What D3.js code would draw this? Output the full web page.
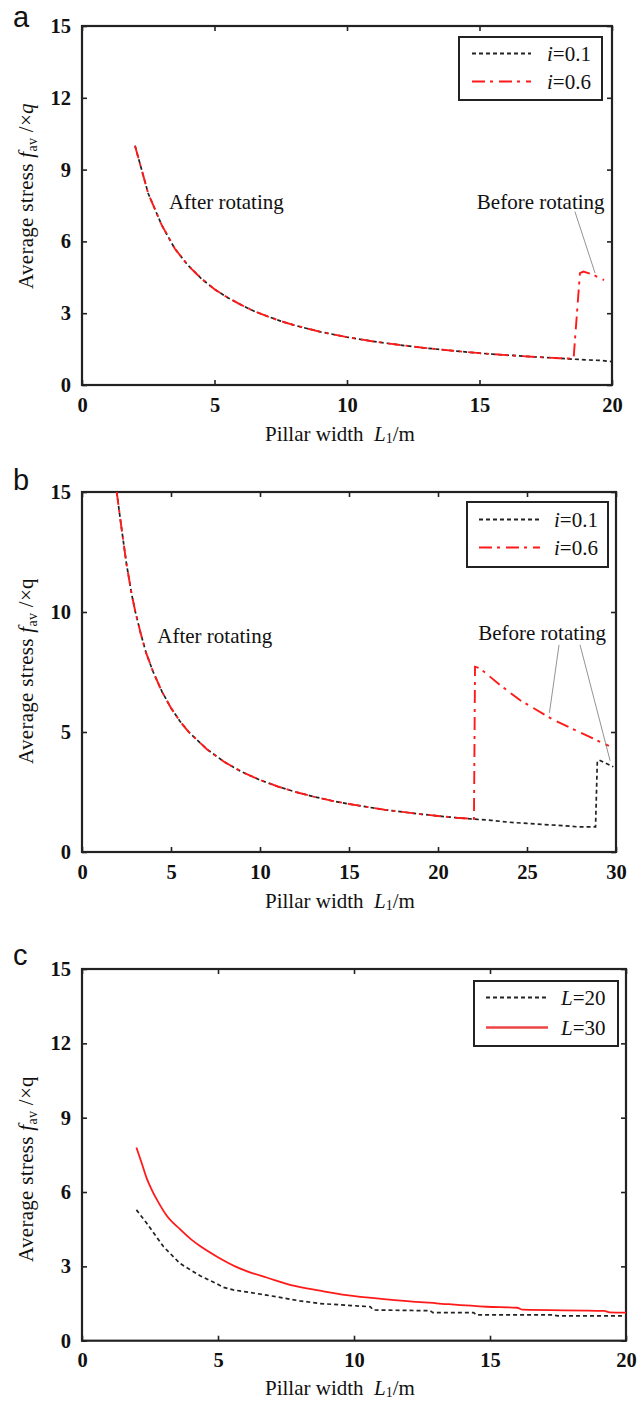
<!DOCTYPE html>
<html><head><meta charset="utf-8">
<script src="https://cdn.jsdelivr.net/npm/d3@7"></script>
<style>body{margin:0;background:#fff}svg{display:block}</style>
</head><body>
<script>
// ---------- DATA ----------
// Panel a (L = 20)
const aLowX  = [2,2.5,3,3.5,4,4.5,5,5.5,6,6.5,7,7.5,8,9,10,11,12,13,14,15,16,17,18,18.55,19,19.5,20];
const aLowY  = [10.0,8.0,6.7,5.7,5.0,4.45,4.0,3.65,3.35,3.08,2.87,2.67,2.5,2.22,2.0,1.82,1.67,1.54,1.43,1.33,1.25,1.18,1.12,1.08,1.05,1.03,0.98];
const aHighX = [2,2.5,3,3.5,4,4.5,5,5.5,6,6.5,7,7.5,8,9,10,11,12,13,14,15,16,17,18,18.55,18.79,18.92,19.3,19.7];
const aHighY = [10.0,8.0,6.7,5.7,5.0,4.45,4.0,3.65,3.35,3.08,2.87,2.67,2.5,2.22,2.0,1.82,1.67,1.54,1.43,1.33,1.25,1.18,1.12,1.1,4.67,4.74,4.6,4.38];
// Panel b (L = 30)
const bLowX  = [1.95,2.2,2.5,2.8,3,3.3,3.6,4,4.5,5,5.5,6,7,8,9,10,11,12,13,14,15,16,17,18,19,20,21,22,23,24,25,26,27,27.8,28.85,28.95,29.05,29.85];
const bLowY  = [15.0,13.6,12.0,10.7,10.0,9.1,8.3,7.5,6.67,6.0,5.45,5.0,4.29,3.75,3.33,3.0,2.73,2.5,2.31,2.14,2.0,1.88,1.76,1.67,1.58,1.5,1.43,1.37,1.32,1.24,1.19,1.14,1.1,1.05,1.05,3.76,3.83,3.55];
const bHighX = [1.95,2.2,2.5,2.8,3,3.3,3.6,4,4.5,5,5.5,6,7,8,9,10,11,12,13,14,15,16,17,18,19,20,21,22.02,22.08,22.36,23.5,24.6,26.5,29.6];
const bHighY = [15.0,13.6,12.0,10.7,10.0,9.1,8.3,7.5,6.67,6.0,5.45,5.0,4.29,3.75,3.33,3.0,2.73,2.5,2.31,2.14,2.0,1.88,1.76,1.67,1.58,1.5,1.43,1.38,7.72,7.65,6.95,6.33,5.5,4.42];
// Panel c
const cL20X = [2,2.38,3,3.6,4.34,4.95,5.2,5.56,6.79,8,8.75,10.6,10.7,12.8,12.9,14.4,14.5,17.3,17.5,20];
const cL20Y = [5.28,4.74,3.79,3.12,2.62,2.3,2.15,2.05,1.84,1.61,1.5,1.37,1.24,1.21,1.13,1.13,1.04,1.04,1.0,1.0];
const cL30X = [2,2.2,2.38,2.56,2.8,3.11,3.6,4.0,4.34,4.95,5.69,6.2,6.79,7.77,8.75,9.73,11.2,13.04,14.88,16.0,16.2,19.2,19.4,20];
const cL30Y = [7.8,7.15,6.55,6.1,5.6,5.05,4.5,4.1,3.82,3.4,2.97,2.75,2.55,2.22,2.02,1.84,1.67,1.51,1.37,1.33,1.25,1.2,1.14,1.13];
// Ticks
const xTicksAC = [0,5,10,15,20];
const xTicksB  = [0,5,10,15,20,25,30];
const yTicksAC = [0,3,6,9,12,15];
const yTicksB  = [0,5,10,15];
const legendAB = ["0.1","0.6"];
const legendC  = ["20","30"];

// ---------- DRAW ----------
const svg = d3.select("body").append("svg").attr("width",641).attr("height",1402);
svg.append("rect").attr("width",641).attr("height",1402).attr("fill","#fff");

const SERIF = "'Liberation Serif','Times New Roman',serif";
const SANS = "'Liberation Sans',Arial,sans-serif";
const BLACK_DASH = "4,3", RED_DASH = "13,5,3,6";
const RED = "#ff1a1a", DARK = "#222";

function zip(xs, ys){ return xs.map((x,i)=>[x,ys[i]]); }

function panel(o){
  const x = d3.scaleLinear().domain([0,o.xmax]).range([82,o.right]);
  const y = d3.scaleLinear().domain([0,15]).range([o.bottom,o.top]);
  const g = svg.append("g");

  const cid = "clip"+o.label;
  svg.append("clipPath").attr("id",cid).append("rect")
     .attr("x",82).attr("y",o.top).attr("width",o.right-82).attr("height",o.bottom-o.top);

  const ax = d3.axisBottom(x).tickValues(o.xt).tickSizeInner(-5).tickSizeOuter(0).tickPadding(12).tickFormat(d3.format("d"));
  const ay = d3.axisLeft(y).tickValues(o.yt).tickSizeInner(-5).tickSizeOuter(0).tickPadding(11).tickFormat(d3.format("d"));
  const axT = d3.axisTop(x).tickValues(o.xt).tickSizeInner(-5).tickSizeOuter(0).tickFormat("");
  const ayR = d3.axisRight(y).tickValues(o.yt).tickSizeInner(-5).tickSizeOuter(0).tickFormat("");
  const styleAxis = s => {
    s.select(".domain").remove();
    s.selectAll("line").attr("stroke",DARK).attr("stroke-width",1.6);
    s.selectAll("text").attr("font-family",SERIF).attr("font-weight","bold").attr("font-size",20.5).attr("fill","#111");
  };
  g.append("g").attr("transform",`translate(0,${o.bottom})`).call(ax).call(styleAxis);
  g.append("g").attr("transform",`translate(82,0)`).call(ay).call(styleAxis);
  g.append("g").attr("transform",`translate(0,${o.top})`).call(axT).call(styleAxis);
  g.append("g").attr("transform",`translate(${o.right},0)`).call(ayR).call(styleAxis);
  g.append("rect").attr("x",82).attr("y",o.top).attr("width",o.right-82).attr("height",o.bottom-o.top)
    .attr("fill","none").attr("stroke",DARK).attr("stroke-width",2.2);

  const lg = g.append("g").attr("clip-path",`url(#${cid})`);
  o.series.forEach(s=>{
    const line = d3.line().x(d=>x(d[0])).y(d=>y(d[1])).curve(s.smooth ? d3.curveMonotoneX : d3.curveLinear);
    lg.append("path").attr("d",line(zip(s.x,s.y))).attr("fill","none")
      .attr("stroke",s.color).attr("stroke-width",s.w).attr("stroke-dasharray",s.dash||null);
  });

  (o.notes||[]).forEach(n=>{
    g.append("text").attr("x",x(n.x)).attr("y",y(n.y)).attr("font-family",SERIF).attr("font-size",21)
      .attr("fill","#111").text(n.t);
  });
  (o.leaders||[]).forEach(l=>{
    g.append("line").attr("x1",x(l[0])).attr("y1",y(l[1])).attr("x2",x(l[2])).attr("y2",y(l[3]))
      .attr("stroke","#777").attr("stroke-width",0.8);
  });

  const L = o.legend;
  g.append("rect").attr("x",L.x0).attr("y",L.y0).attr("width",L.x1-L.x0).attr("height",L.y1-L.y0)
    .attr("fill","#fff").attr("stroke",DARK).attr("stroke-width",2);
  o.series.forEach((s,i)=>{
    const ry = L.rows[i];
    g.append("line").attr("x1",L.lx0).attr("x2",L.lx1).attr("y1",ry).attr("y2",ry)
      .attr("stroke",s.legendColor||s.color).attr("stroke-width",s.dash?s.w+0.3:2.6).attr("stroke-dasharray",s.dash||null);
    const t = g.append("text").attr("x",L.tx).attr("y",ry+7).attr("font-family",SERIF).attr("font-size",21).attr("fill","#111");
    t.append("tspan").attr("font-style","italic").text(L.sym);
    t.append("tspan").text("=" + L.vals[i]);
  });

  const xt = g.append("text").attr("x",265).attr("y",o.xTitleY).attr("font-family",SERIF).attr("font-size",21).attr("fill","#111");
  xt.append("tspan").text("Pillar width\u00a0\u00a0");
  xt.append("tspan").attr("font-style","italic").text("L");
  xt.append("tspan").attr("font-size",14).attr("dy",2).text("1");
  xt.append("tspan").attr("dy",-2).text("/m");

  const yt = g.append("text").attr("transform",`translate(33,${o.yTitleC}) rotate(-90)`).attr("text-anchor","middle")
     .attr("font-family",SERIF).attr("font-size",21).attr("fill","#111").attr("letter-spacing",0.3);
  yt.append("tspan").text("Average stress ");
  yt.append("tspan").attr("font-style","italic").text("f");
  yt.append("tspan").attr("font-size",14).attr("dy",4).text("av");
  yt.append("tspan").attr("dy",-4).text("\u00a0/\u00d7");
  yt.append("tspan").attr("font-style",o.qItalic?"italic":"normal").text("q");

  svg.append("text").attr("x",13).attr("y",o.labelY).attr("font-family",SANS).attr("font-size",29).attr("fill","#111").text(o.label);
}

panel({label:"a", labelY:27, xmax:20, right:612, top:26, bottom:385, xt:xTicksAC, yt:yTicksAC,
  xTitleY:441, yTitleC:196, qItalic:true,
  series:[{x:aLowX,y:aLowY,color:"#222",w:1.7,dash:BLACK_DASH},{x:aHighX,y:aHighY,color:RED,w:1.9,dash:RED_DASH}],
  notes:[{x:3.28,y:7.35,t:"After rotating"},{x:14.9,y:7.35,t:"Before rotating"}],
  leaders:[[18.6,7.25,19.36,4.68]],
  legend:{x0:459,y0:37,x1:602,y1:100,lx0:472,lx1:531,rows:[53.5,81.5],tx:547,sym:"i",vals:legendAB}});

panel({label:"b", labelY:490, xmax:30, right:616, top:492, bottom:852, xt:xTicksB, yt:yTicksB,
  xTitleY:908, yTitleC:671, qItalic:false,
  series:[{x:bLowX,y:bLowY,color:"#222",w:1.7,dash:BLACK_DASH},{x:bHighX,y:bHighY,color:RED,w:1.9,dash:RED_DASH}],
  notes:[{x:4.23,y:8.7,t:"After rotating"},{x:22.26,y:8.83,t:"Before rotating"}],
  leaders:[[26.8,8.63,26.26,5.8],[27.98,8.63,29.67,3.8]],
  legend:{x0:467,y0:502,x1:608,y1:567,lx0:479,lx1:540,rows:[519.5,547.5],tx:554,sym:"i",vals:legendAB}});

panel({label:"c", labelY:965, xmax:20, right:626, top:969, bottom:1340.7, xt:xTicksAC, yt:yTicksAC,
  xTitleY:1395, yTitleC:1169, qItalic:false,
  series:[{x:cL20X,y:cL20Y,color:"#222",w:1.7,dash:BLACK_DASH},{x:cL30X,y:cL30Y,color:RED,w:1.8,dash:null,smooth:true,legendColor:"#ee4444"}],
  legend:{x0:474,y0:981,x1:618,y1:1046,lx0:486,lx1:548,rows:[997.5,1027.5],tx:561,sym:"L",vals:legendC}});
</script>
</body></html>
